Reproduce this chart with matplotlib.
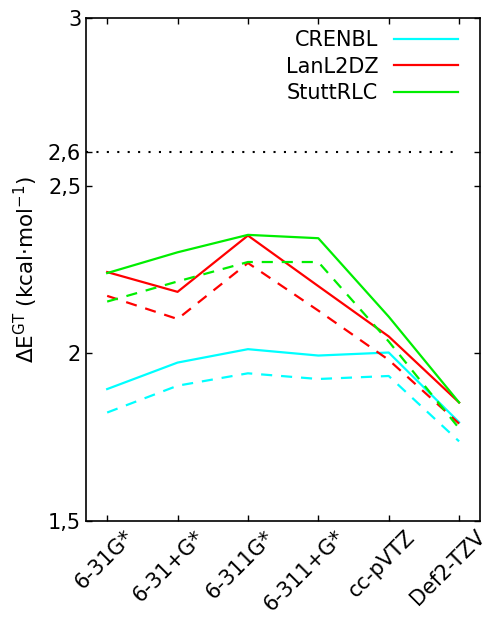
import numpy as np
import matplotlib.pyplot as plt
import matplotlib.transforms as mtransforms

# basis sets on the x axis
basis = ["6-31G*", "6-31+G*", "6-311G*", "6-311+G*", "cc-pVTZ", "Def2-TZV"]

# solid lines
crenbl = [1.893, 1.972, 2.012, 1.993, 2.002, 1.794]
lanl2dz = [2.242, 2.183, 2.351, 2.200, 2.050, 1.853]
stuttrlc = [2.239, 2.301, 2.353, 2.343, 2.109, 1.853]

# dashed lines
crenbl_d = [1.823, 1.903, 1.940, 1.923, 1.932, 1.737]
lanl2dz_d = [2.171, 2.102, 2.269, 2.127, 1.980, 1.790]
stuttrlc_d = [2.154, 2.214, 2.272, 2.272, 2.035, 1.776]

ref_level = 2.6

yticks = [1.5, 2.0, 2.5, 2.6, 3.0]
ytick_labels = ["1,5", "2", "2,5", "2,6", "3"]

plt.rcParams['font.family'] = 'DejaVu Sans'
plt.rcParams['font.size'] = 15

fig = plt.figure(figsize=(4.89, 6.2), dpi=100)
ax = fig.add_axes([0.176, 0.160, 0.806, 0.811])

x = np.arange(len(basis))
cyan, red, green = "#00ffff", "#ff0000", "#00ee00"

ax.plot(x, crenbl, color=cyan, lw=1.6, label="CRENBL")
ax.plot(x, lanl2dz, color=red, lw=1.6, label="LanL2DZ")
ax.plot(x, stuttrlc, color=green, lw=1.6, label="StuttRLC")
ax.plot(x, crenbl_d, color=cyan, lw=1.6, ls=(0, (5, 4)))
ax.plot(x, lanl2dz_d, color=red, lw=1.6, ls=(0, (5, 4)))
ax.plot(x, stuttrlc_d, color=green, lw=1.6, ls=(0, (5, 4)))

# dotted reference level
ax.hlines(ref_level, -0.3, x[-1], color="black", lw=1.5, ls=(0, (1, 4)))

ax.set_xlim(-0.3, 5.3)
ax.set_ylim(1.5, 3.0)
ax.set_xticks(x)
ax.set_xticklabels([])
# rotated labels, shifted right like gnuplot does
offset = mtransforms.ScaledTranslation(16 / 100, -6 / 100, fig.dpi_scale_trans)
trans = ax.get_xaxis_transform() + offset
for xi, name in zip(x, basis):
    ax.text(xi, 0, name, transform=trans, rotation=45, ha="right", va="top",
            rotation_mode="anchor", fontsize=15)

ax.set_yticks(yticks)
ax.set_yticklabels(ytick_labels)
ax.tick_params(direction="in", top=True, right=True, length=4, width=1)
for s in ax.spines.values():
    s.set_linewidth(1.2)

ax.set_ylabel(r"$\Delta$E$^{\rm GT}$ (kcal$\cdot$mol$^{-1}$)", fontsize=15.5, labelpad=6)

leg = ax.legend(loc="upper right", bbox_to_anchor=(0.944, 0.976), frameon=False,
                markerfirst=False, handlelength=3.07, handletextpad=0.77,
                fontsize=15, labelspacing=0.31, borderpad=0, borderaxespad=0)
for t in leg.get_texts():
    t.set_ha("right")

fig.savefig("out.png", dpi=100)
